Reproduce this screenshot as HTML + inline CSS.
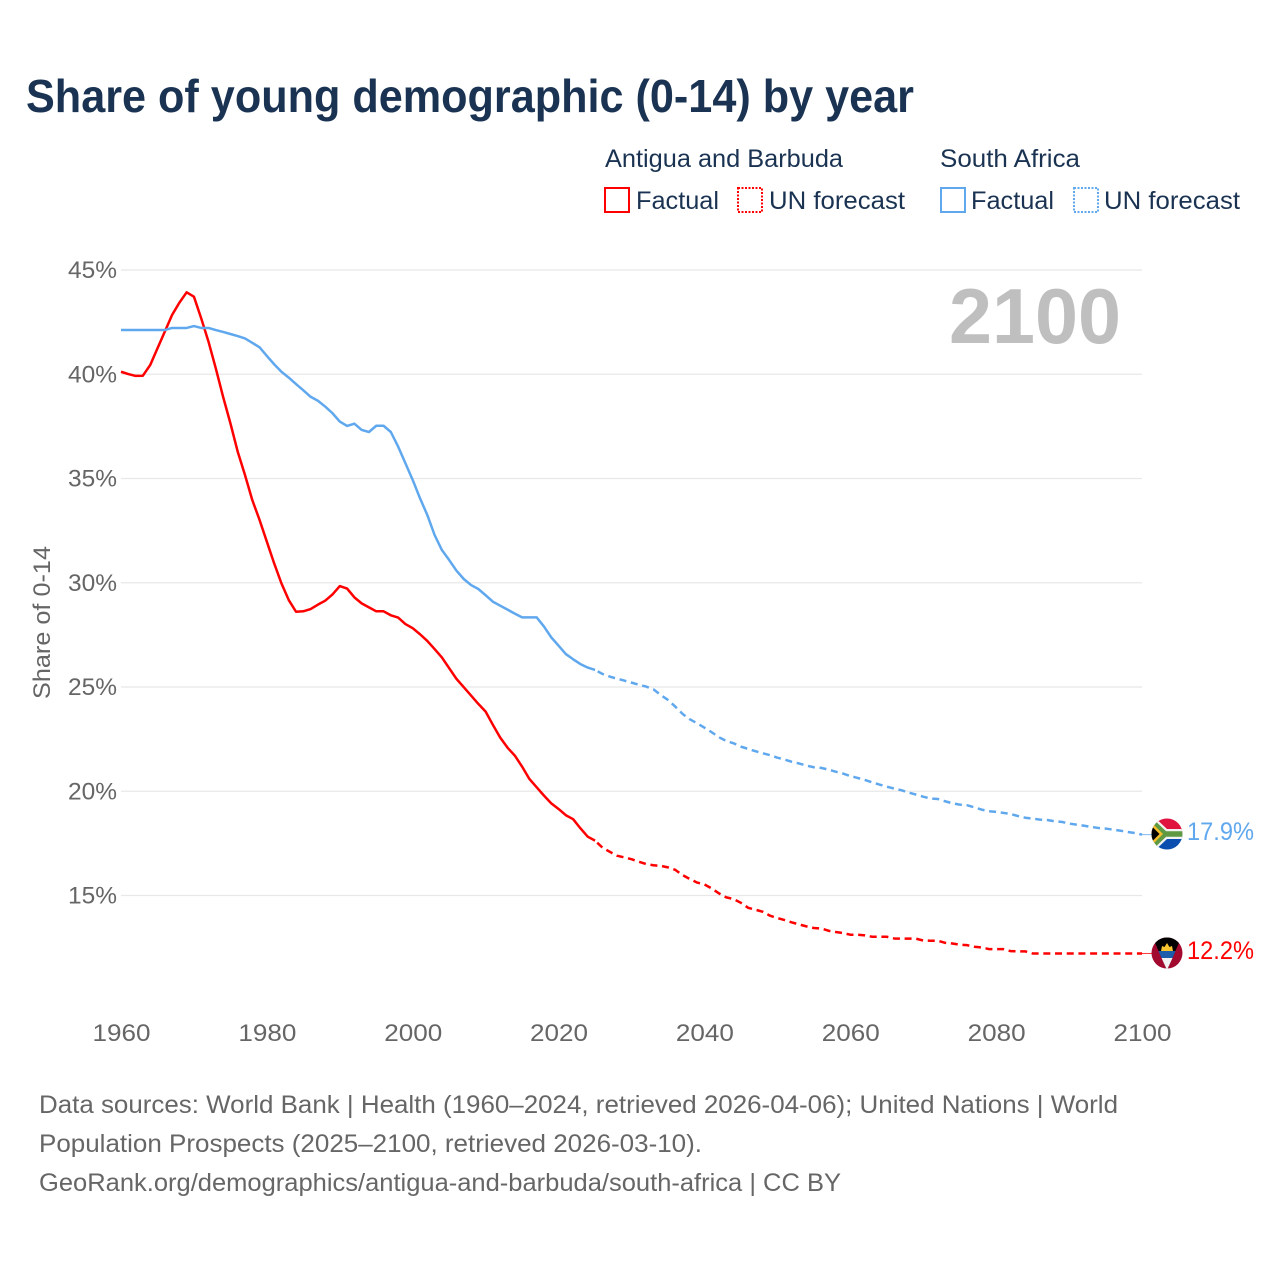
<!DOCTYPE html>
<html lang="en">
<head>
<meta charset="utf-8">
<title>Share of young demographic (0-14) by year</title>
<style>
html,body{margin:0;padding:0;background:#fff;}
svg{display:block;font-family:"Liberation Sans",sans-serif;}
</style>
</head>
<body>
<svg id="chart" xmlns="http://www.w3.org/2000/svg" width="1280" height="1280" viewBox="0 0 1280 1280">
  <rect width="1280" height="1280" fill="#fff"/>
  <text x="26" y="112" font-size="46" font-weight="700" fill="#1a3352" textLength="888" lengthAdjust="spacingAndGlyphs">Share of young demographic (0-14) by year</text>

  <g font-size="25" fill="#1a3352">
    <text x="605" y="167" textLength="238" lengthAdjust="spacingAndGlyphs">Antigua and Barbuda</text>
    <text x="940" y="167" textLength="140" lengthAdjust="spacingAndGlyphs">South Africa</text>
    <rect x="605" y="188" width="24" height="24" fill="none" stroke="#ff0000" stroke-width="2"/>
    <text x="636" y="209" textLength="83" lengthAdjust="spacingAndGlyphs">Factual</text>
    <rect x="738" y="188" width="24" height="24" fill="none" stroke="#ff0000" stroke-width="2" stroke-dasharray="2 1.5"/>
    <text x="769" y="209" textLength="136" lengthAdjust="spacingAndGlyphs">UN forecast</text>
    <rect x="941" y="188" width="24" height="24" fill="none" stroke="#60a8ee" stroke-width="2"/>
    <text x="971" y="209" textLength="83" lengthAdjust="spacingAndGlyphs">Factual</text>
    <rect x="1074" y="188" width="24" height="24" fill="none" stroke="#60a8ee" stroke-width="2" stroke-dasharray="2 1.5"/>
    <text x="1104" y="209" textLength="136" lengthAdjust="spacingAndGlyphs">UN forecast</text>
  </g>

  <g id="grid"></g>
  <text x="949" y="343" font-size="78" font-weight="700" fill="#bfbfbf" textLength="172" lengthAdjust="spacingAndGlyphs">2100</text>
  <g id="yticks"></g>
  <g id="xticks"></g>
  <text transform="translate(50,622.5) rotate(-90)" text-anchor="middle" font-size="24.5" fill="#666" textLength="153" lengthAdjust="spacingAndGlyphs">Share of 0-14</text>
  <g id="series"></g>

  <defs>
    <clipPath id="clip-za"><circle cx="1167" cy="834" r="15.5"/></clipPath>
    <clipPath id="clip-ag"><circle cx="1167" cy="953" r="15.5"/></clipPath>
  </defs>
  <g clip-path="url(#clip-za)">
    <rect x="1150" y="817" width="34" height="17" fill="#e0123f"/>
    <rect x="1150" y="834" width="34" height="18" fill="#0a4fb0"/>
    <path d="M1146 816 L1165 834 L1186 834 M1165 834 L1146 852" fill="none" stroke="#f2f2f2" stroke-width="10"/>
    <path d="M1146 816 L1165 834 L1186 834 M1165 834 L1146 852" fill="none" stroke="#5f9a42" stroke-width="5.5"/>
    <path d="M1150 821 L1163 834 L1150 847 Z" fill="#f4bd2a"/>
    <path d="M1150 824.5 L1159.5 834 L1150 843.5 Z" fill="#000"/>
  </g>
  <g clip-path="url(#clip-ag)">
    <rect x="1150" y="936" width="34" height="34" fill="#a10a2e"/>
    <path d="M1152 936 L1182 936 L1167 970 Z" fill="#000"/>
    <path d="M1158.5 951 L1175.5 951 L1172.5 958 L1161.5 958 Z" fill="#1b5cab"/>
    <path d="M1161.5 958 L1172.5 958 L1167 970 Z" fill="#f1f1f1"/>
    <path d="M1161 951 L1162 946 L1164.5 947 L1167 943 L1169.5 947 L1172 946 L1173 951 Z" fill="#f6c52f"/>
  </g>
  <text x="1187" y="840" font-size="25" fill="#60a8ee" textLength="67" lengthAdjust="spacingAndGlyphs">17.9%</text>
  <text x="1187" y="959" font-size="25" fill="#ff0000" textLength="67" lengthAdjust="spacingAndGlyphs">12.2%</text>

  <g font-size="25" fill="#666">
    <text x="39" y="1113" textLength="1079" lengthAdjust="spacingAndGlyphs">Data sources: World Bank | Health (1960–2024, retrieved 2026-04-06); United Nations | World</text>
    <text x="39" y="1152" textLength="663" lengthAdjust="spacingAndGlyphs">Population Prospects (2025–2100, retrieved 2026-03-10).</text>
    <text x="39" y="1191" textLength="802" lengthAdjust="spacingAndGlyphs">GeoRank.org/demographics/antigua-and-barbuda/south-africa | CC BY</text>
  </g>
</svg>
<script>
const firstYear = 1960;
const lastFactualYear = 2025;
const yTickValues = [45, 40, 35, 30, 25, 20, 15];
const yTickLabels = ["45%", "40%", "35%", "30%", "25%", "20%", "15%"];
const xTickYears = [1960, 1980, 2000, 2020, 2040, 2060, 2080, 2100];
const xTickLabels = ["1960", "1980", "2000", "2020", "2040", "2060", "2080", "2100"];

const antiguaValues = [
  40.12,40.01,39.92,39.93,40.44,41.24,42.04,42.84,43.43,43.93,
  43.72,42.68,41.56,40.28,38.92,37.65,36.29,35.17,33.97,33.01,
  31.97,30.93,29.97,29.17,28.61,28.63,28.74,28.95,29.14,29.44,
  29.84,29.72,29.30,29.01,28.82,28.63,28.63,28.44,28.33,28.02,
  27.82,27.53,27.21,26.82,26.42,25.90,25.39,24.99,24.59,24.19,
  23.82,23.18,22.57,22.09,21.71,21.18,20.59,20.19,19.79,19.42,
  19.15,18.85,18.66,18.22,17.82,17.63,17.30,17.10,16.91,16.83,
  16.74,16.62,16.51,16.45,16.42,16.35,16.23,15.98,15.79,15.62,
  15.53,15.34,15.10,14.91,14.83,14.65,14.41,14.32,14.22,14.03,
  13.92,13.82,13.71,13.61,13.52,13.44,13.42,13.31,13.25,13.20,
  13.12,13.12,13.09,13.02,13.02,13.02,12.94,12.93,12.93,12.93,
  12.84,12.83,12.83,12.73,12.70,12.64,12.62,12.54,12.51,12.43,
  12.43,12.43,12.33,12.32,12.32,12.22,12.22,12.22,12.22,12.22,
  12.22,12.22,12.22,12.22,12.22,12.22,12.22,12.22,12.22,12.22,12.22
];

const southAfricaValues = [
  42.12,42.12,42.12,42.12,42.12,42.12,42.12,42.22,42.22,42.22,
  42.31,42.22,42.22,42.12,42.03,41.93,41.83,41.72,41.51,41.29,
  40.88,40.48,40.12,39.84,39.53,39.23,38.92,38.73,38.45,38.13,
  37.73,37.52,37.63,37.33,37.23,37.53,37.53,37.23,36.53,35.73,
  34.93,34.05,33.25,32.29,31.57,31.09,30.58,30.18,29.89,29.70,
  29.40,29.09,28.90,28.71,28.52,28.34,28.34,28.34,27.90,27.38,
  26.98,26.58,26.33,26.10,25.93,25.82,25.63,25.50,25.40,25.31,
  25.21,25.11,25.02,24.89,24.62,24.38,24.06,23.71,23.45,23.26,
  23.05,22.83,22.59,22.41,22.30,22.14,22.03,21.92,21.82,21.73,
  21.61,21.52,21.41,21.33,21.23,21.15,21.12,21.04,20.94,20.85,
  20.73,20.64,20.54,20.43,20.32,20.22,20.13,20.05,19.94,19.84,
  19.74,19.65,19.63,19.52,19.42,19.36,19.33,19.23,19.12,19.04,
  19.01,18.96,18.91,18.81,18.73,18.69,18.64,18.62,18.56,18.53,
  18.45,18.40,18.35,18.29,18.24,18.21,18.16,18.11,18.05,18.00,17.92
];

const NS = "http://www.w3.org/2000/svg";
function xScale(year) { return 121 + (year - 1960) * (1021 / 140); }
function yScale(value) { return 270 + (45 - value) * 20.85; }

function make(tag, parent, attrs) {
  const el = document.createElementNS(NS, tag);
  for (const k in attrs) el.setAttribute(k, attrs[k]);
  parent.appendChild(el);
  return el;
}

const gridGroup = document.getElementById("grid");
const yTickGroup = document.getElementById("yticks");
const xTickGroup = document.getElementById("xticks");
const seriesGroup = document.getElementById("series");

yTickValues.forEach(function (v, i) {
  const line = make("line", gridGroup, { x1: 121, x2: 1142, y1: yScale(v), y2: yScale(v), stroke: "#e8e8e8", "stroke-width": 1.2 });
  
  
  const label = make("text", yTickGroup, { x: 117, y: yScale(v) + 8, "text-anchor": "end", "font-size": 24.5, fill: "#666", textLength: 49, lengthAdjust: "spacingAndGlyphs" });
  label.textContent = yTickLabels[i];
  
  
});

xTickYears.forEach(function (year, i) {
  const label = make("text", xTickGroup, { x: xScale(year) + 0.5, y: 1041, "text-anchor": "middle", "font-size": 24.5, fill: "#666", textLength: 58, lengthAdjust: "spacingAndGlyphs" });
  label.textContent = xTickLabels[i];
  
  
});

function pathFor(values, from, to) {
  let d = "";
  for (let i = from; i <= to; i++) {
    d += (i === from ? "M" : "L") + xScale(firstYear + i).toFixed(2) + " " + yScale(values[i]).toFixed(2);
  }
  return d;
}

function drawSeries(values, color) {
  const split = lastFactualYear - firstYear;
  const last = values.length - 1;
  const solid = make("path", seriesGroup, { d: pathFor(values, 0, split), fill: "none", stroke: color, "stroke-width": 2.5, "stroke-linejoin": "round" });
  
  
  const dashed = make("path", seriesGroup, { d: pathFor(values, split, last), fill: "none", stroke: color, "stroke-width": 2.5, "stroke-linejoin": "round", "stroke-dasharray": "7 4.7", "stroke-dashoffset": 8.7 });
  
  
  const lastY = yScale(values[last]);
  const connector = make("line", seriesGroup, { x1: xScale(firstYear + last), x2: 1152, y1: lastY, y2: lastY, stroke: color, "stroke-width": 1, "stroke-opacity": 0.8 });
  
  
}

drawSeries(antiguaValues, "#ff0000");
drawSeries(southAfricaValues, "#60a8ee");
</script>
</body>
</html>
